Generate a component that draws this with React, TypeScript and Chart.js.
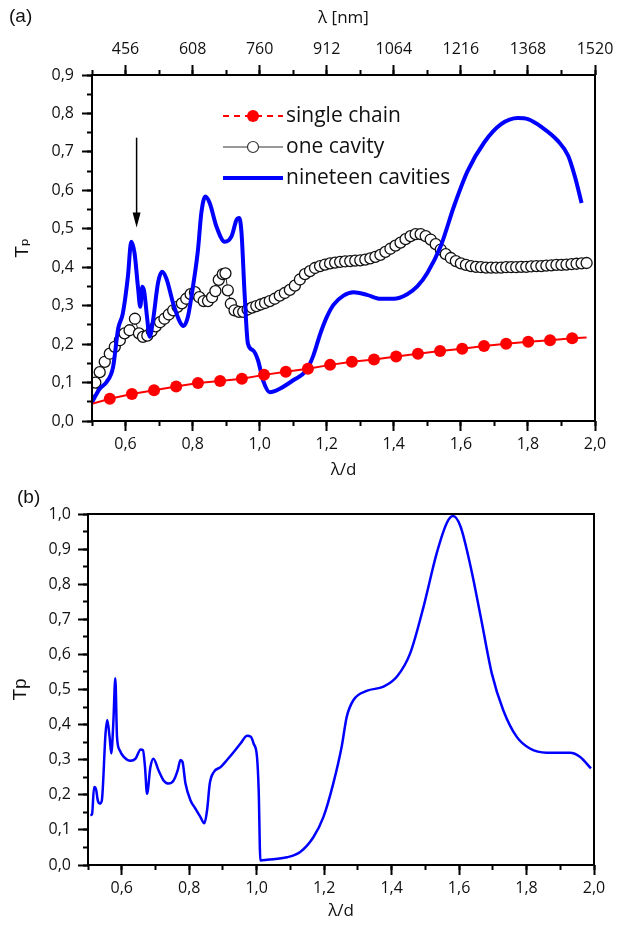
import React, { useEffect, useRef } from "react";
import { Chart, registerables } from "chart.js";

Chart.register(...registerables);

// ---------------- data ----------------
const X_MIN = 0.5;
const X_MAX = 2.0;
const D_NM = 760; // lambda [nm] = (lambda/d) * D_NM
const TOP_Y_MAX = 0.9;
const BOTTOM_Y_MAX = 1.0;

const SERIES_NAMES = ["single chain", "one cavity", "nineteen cavities"];

// (a) single chain (red line with filled dots; first/last points are line ends only)
const SINGLE_X = [0.5, 0.553, 0.619, 0.685, 0.751, 0.816, 0.882, 0.947, 1.013, 1.078, 1.144, 1.21, 1.275, 1.341, 1.407, 1.472, 1.538, 1.604, 1.669, 1.735, 1.801, 1.866, 1.932, 1.975];
const SINGLE_Y = [0.045, 0.058, 0.07, 0.08, 0.09, 0.099, 0.104, 0.11, 0.12, 0.128, 0.136, 0.146, 0.154, 0.16, 0.168, 0.175, 0.182, 0.188, 0.195, 0.201, 0.206, 0.21, 0.215, 0.217];

// (a) one cavity (open circles)
const ONE_X = [0.5, 0.51, 0.523, 0.538, 0.553, 0.568, 0.583, 0.597, 0.612, 0.628, 0.64, 0.652, 0.665, 0.678, 0.69, 0.703, 0.716, 0.729, 0.742, 0.755, 0.768, 0.781, 0.794, 0.807, 0.82, 0.833, 0.846, 0.858, 0.868, 0.878, 0.89, 0.898, 0.905, 0.914, 0.925, 0.938, 0.951, 0.964, 0.977, 0.99, 1.003, 1.016, 1.03, 1.045, 1.06, 1.075, 1.09, 1.105, 1.12, 1.135, 1.15, 1.165, 1.18, 1.195, 1.21, 1.225, 1.24, 1.255, 1.27, 1.285, 1.3, 1.315, 1.33, 1.345, 1.36, 1.375, 1.39, 1.405, 1.42, 1.435, 1.45, 1.465, 1.48, 1.495, 1.51, 1.525, 1.54, 1.555, 1.57, 1.585, 1.6, 1.615, 1.63, 1.645, 1.66, 1.675, 1.69, 1.705, 1.72, 1.735, 1.75, 1.765, 1.78, 1.795, 1.81, 1.825, 1.84, 1.855, 1.87, 1.885, 1.9, 1.915, 1.93, 1.945, 1.96, 1.975];
const ONE_Y = [0.08, 0.1, 0.127, 0.154, 0.175, 0.193, 0.21, 0.228, 0.236, 0.266, 0.228, 0.219, 0.222, 0.234, 0.246, 0.257, 0.266, 0.277, 0.288, 0.297, 0.306, 0.318, 0.33, 0.335, 0.322, 0.312, 0.312, 0.322, 0.338, 0.367, 0.382, 0.384, 0.34, 0.305, 0.288, 0.284, 0.284, 0.29, 0.295, 0.299, 0.303, 0.307, 0.312, 0.318, 0.326, 0.333, 0.341, 0.352, 0.368, 0.382, 0.39, 0.398, 0.403, 0.407, 0.41, 0.412, 0.414, 0.415, 0.416, 0.417, 0.418, 0.42, 0.423, 0.427, 0.432, 0.44, 0.448, 0.456, 0.464, 0.473, 0.481, 0.486, 0.486, 0.481, 0.472, 0.46, 0.446, 0.434, 0.424, 0.416, 0.41, 0.406, 0.403, 0.401, 0.4, 0.399, 0.399, 0.399, 0.399, 0.4, 0.4, 0.4, 0.401, 0.401, 0.402, 0.403, 0.403, 0.404, 0.405, 0.406, 0.406, 0.407, 0.408, 0.409, 0.41, 0.411];

// (a) nineteen cavities (thick blue line)
const NINETEEN_X = [0.5, 0.523, 0.543, 0.563, 0.578, 0.592, 0.607, 0.617, 0.627, 0.637, 0.644, 0.65, 0.656, 0.664, 0.672, 0.682, 0.697, 0.709, 0.722, 0.742, 0.762, 0.773, 0.786, 0.801, 0.816, 0.826, 0.838, 0.851, 0.871, 0.896, 0.916, 0.931, 0.939, 0.946, 0.955, 0.965, 0.98, 0.995, 1.01, 1.03, 1.06, 1.1, 1.14, 1.16, 1.18, 1.2, 1.22, 1.25, 1.28, 1.32, 1.36, 1.4, 1.44, 1.47, 1.5, 1.54, 1.58, 1.62, 1.67, 1.72, 1.77, 1.8, 1.84, 1.89, 1.92, 1.94, 1.96];
const NINETEEN_Y = [0.049, 0.084, 0.101, 0.141, 0.24, 0.28, 0.375, 0.466, 0.436, 0.349, 0.297, 0.349, 0.335, 0.271, 0.219, 0.262, 0.36, 0.388, 0.37, 0.306, 0.258, 0.247, 0.271, 0.349, 0.445, 0.541, 0.584, 0.567, 0.506, 0.466, 0.48, 0.523, 0.528, 0.488, 0.332, 0.201, 0.184, 0.158, 0.106, 0.075, 0.084, 0.106, 0.133, 0.17, 0.225, 0.27, 0.302, 0.326, 0.335, 0.328, 0.318, 0.318, 0.33, 0.35, 0.385, 0.455, 0.56, 0.65, 0.725, 0.772, 0.788, 0.785, 0.765, 0.728, 0.69, 0.636, 0.567];

// arrow in (a)
const ARROW_X = 0.633;
const ARROW_Y = [0.737, 0.503];

// (b) single blue curve
const B_X = [0.507, 0.512, 0.518, 0.524, 0.529, 0.535, 0.541, 0.552, 0.557, 0.564, 0.569, 0.575, 0.581, 0.586, 0.594, 0.606, 0.626, 0.641, 0.656, 0.663, 0.669, 0.675, 0.685, 0.694, 0.709, 0.724, 0.739, 0.754, 0.766, 0.774, 0.78, 0.789, 0.804, 0.818, 0.833, 0.845, 0.853, 0.861, 0.873, 0.893, 0.912, 0.932, 0.952, 0.972, 0.983, 0.991, 1.001, 1.006, 1.011, 1.031, 1.09, 1.129, 1.168, 1.198, 1.227, 1.252, 1.267, 1.287, 1.326, 1.376, 1.416, 1.455, 1.495, 1.534, 1.564, 1.582, 1.604, 1.634, 1.664, 1.697, 1.731, 1.771, 1.81, 1.86, 1.929, 1.959, 1.991];
const B_Y = [0.142, 0.145, 0.222, 0.215, 0.184, 0.175, 0.184, 0.375, 0.413, 0.365, 0.318, 0.403, 0.532, 0.365, 0.327, 0.308, 0.297, 0.303, 0.329, 0.327, 0.279, 0.203, 0.279, 0.303, 0.27, 0.241, 0.232, 0.241, 0.27, 0.299, 0.294, 0.232, 0.184, 0.161, 0.137, 0.119, 0.156, 0.232, 0.265, 0.279, 0.299, 0.322, 0.346, 0.368, 0.365, 0.346, 0.308, 0.213, 0.013, 0.015, 0.022, 0.037, 0.079, 0.137, 0.232, 0.337, 0.422, 0.47, 0.496, 0.508, 0.537, 0.603, 0.737, 0.889, 0.975, 0.994, 0.965, 0.851, 0.708, 0.546, 0.441, 0.365, 0.332, 0.32, 0.32, 0.308, 0.275];

// ---------------- styling ----------------
const RED = "#ff0000";
const BLUE = "#0000ff";
const INK = "#111111";
const OPEN = "'Open Sans', 'DejaVu Sans', sans-serif";
const ARIAL = "'Liberation Sans', Arial, 'DejaVu Sans', sans-serif";
const TICK_FONT = { family: OPEN, size: 16 };

const zip = (xs: number[], ys: number[]) => xs.map((x, i) => ({ x, y: ys[i] }));
const comma = (v: number) => Number(v).toFixed(1).replace(".", ",");

function fitAxis(size: number, horizontal: boolean) {
  return (s: any) => {
    if (horizontal) s.height = size;
    else s.width = size;
    s.paddingLeft = 0;
    s.paddingRight = 0;
    s.paddingTop = 0;
    s.paddingBottom = 0;
  };
}

function axis(
  position: string,
  min: number,
  max: number,
  step: number,
  tickLen: number,
  weight: number,
  size: number,
  label: ((v: number) => string) | null,
  padding: number,
  title?: any
) {
  return {
    type: "linear",
    position,
    min,
    max,
    weight,
    ticks: {
      stepSize: step,
      display: !!label,
      callback: label ? (v: any) => label(Number(v)) : () => "",
      font: TICK_FONT,
      color: INK,
      padding,
      autoSkip: false,
      maxRotation: 0,
      minRotation: 0,
      includeBounds: false,
    },
    grid: {
      display: true,
      drawOnChartArea: false,
      drawTicks: true,
      tickLength: tickLen,
      tickWidth: 2,
      tickColor: "#000",
    },
    border: { display: false },
    title: title || { display: false },
    afterFit: fitAxis(size, position === "top" || position === "bottom"),
  };
}

const framePlugin = {
  id: "frame",
  afterDatasetsDraw(chart: any) {
    const { ctx, chartArea: a } = chart;
    ctx.save();
    ctx.strokeStyle = "#000";
    ctx.lineWidth = 2;
    ctx.strokeRect(a.left, a.top, a.right - a.left, a.bottom - a.top);
    ctx.restore();
  },
};

function panelLabel(text: string, x: number, y: number) {
  return {
    id: "panelLabel",
    afterDraw(chart: any) {
      const ctx = chart.ctx;
      ctx.save();
      ctx.fillStyle = INK;
      ctx.font = `19px ${ARIAL}`;
      ctx.textAlign = "left";
      ctx.textBaseline = "middle";
      ctx.fillText(text, x, y);
      ctx.restore();
    },
  };
}

const arrowPlugin = {
  id: "arrow",
  afterDatasetsDraw(chart: any) {
    const { ctx, scales } = chart;
    const x = scales.x.getPixelForValue(ARROW_X);
    const y0 = scales.y.getPixelForValue(ARROW_Y[0]);
    const y1 = scales.y.getPixelForValue(ARROW_Y[1]);
    ctx.save();
    ctx.strokeStyle = "#000";
    ctx.fillStyle = "#000";
    ctx.lineWidth = 1.5;
    ctx.beginPath();
    ctx.moveTo(x, y0);
    ctx.lineTo(x, y1 - 12);
    ctx.stroke();
    ctx.beginPath();
    ctx.moveTo(x - 4, y1 - 15);
    ctx.lineTo(x + 4, y1 - 15);
    ctx.lineTo(x, y1);
    ctx.closePath();
    ctx.fill();
    ctx.restore();
  },
};

const legendPlugin = {
  id: "lineLegend",
  afterDraw(chart: any) {
    const { ctx } = chart;
    const x0 = 223;
    const x1 = 283;
    const xm = 253;
    const rows = [116, 147, 178];
    ctx.save();
    // single chain
    ctx.strokeStyle = RED;
    ctx.lineWidth = 2;
    ctx.setLineDash([6, 5]);
    ctx.beginPath();
    ctx.moveTo(x0, rows[0]);
    ctx.lineTo(x1, rows[0]);
    ctx.stroke();
    ctx.setLineDash([]);
    ctx.fillStyle = RED;
    ctx.beginPath();
    ctx.arc(xm, rows[0], 6, 0, Math.PI * 2);
    ctx.fill();
    // one cavity
    ctx.strokeStyle = "#333";
    ctx.lineWidth = 1;
    ctx.beginPath();
    ctx.moveTo(x0, rows[1]);
    ctx.lineTo(x1, rows[1]);
    ctx.stroke();
    ctx.fillStyle = "#fff";
    ctx.lineWidth = 1.2;
    ctx.beginPath();
    ctx.arc(xm, rows[1], 5.5, 0, Math.PI * 2);
    ctx.fill();
    ctx.stroke();
    // nineteen cavities
    ctx.strokeStyle = BLUE;
    ctx.lineWidth = 4;
    ctx.beginPath();
    ctx.moveTo(x0, rows[2]);
    ctx.lineTo(x1, rows[2]);
    ctx.stroke();
    // labels
    ctx.fillStyle = INK;
    ctx.font = `21px ${OPEN}`;
    ctx.textAlign = "left";
    ctx.textBaseline = "middle";
    SERIES_NAMES.forEach((n, i) => ctx.fillText(n, 286, rows[i]));
    ctx.restore();
  },
};

export default function App() {
  const topRef = useRef<HTMLCanvasElement | null>(null);
  const botRef = useRef<HTMLCanvasElement | null>(null);

  useEffect(() => {
    const lastSingle = SINGLE_X.length - 1;
    const top = new Chart(topRef.current as HTMLCanvasElement, {
      type: "line",
      data: {
        datasets: [
          {
            label: SERIES_NAMES[0],
            data: zip(SINGLE_X, SINGLE_Y),
            borderColor: RED,
            backgroundColor: RED,
            borderWidth: 2,
            pointRadius: (c: any) => (c.dataIndex === 0 || c.dataIndex === lastSingle ? 0 : 6),
            pointBackgroundColor: RED,
            pointBorderColor: RED,
            pointBorderWidth: 0,
            order: 0,
            xAxisID: "x",
            yAxisID: "y",
          },
          {
            label: SERIES_NAMES[1],
            data: zip(ONE_X, ONE_Y),
            borderColor: "#222",
            borderWidth: 1,
            pointRadius: 5.5,
            pointBackgroundColor: "#fff",
            pointBorderColor: "#111",
            pointBorderWidth: 1.3,
            order: 2,
            xAxisID: "x",
            yAxisID: "y",
          },
          {
            label: SERIES_NAMES[2],
            data: zip(NINETEEN_X, NINETEEN_Y),
            borderColor: BLUE,
            borderWidth: 4,
            pointRadius: 0,
            cubicInterpolationMode: "monotone",
            order: 1,
            xAxisID: "x",
            yAxisID: "y",
          },
        ],
      } as any,
      options: {
        responsive: false,
        animation: false,
        events: [],
        layout: { padding: { left: 0, right: 30, top: 0, bottom: 0 } },
        plugins: { legend: { display: false }, tooltip: { enabled: false }, title: { display: false } },
        scales: {
          x: axis("bottom", X_MIN, X_MAX, 0.2, 10, 1, 59, comma, 4, {
            display: true,
            text: "λ/d",
            color: INK,
            font: { family: OPEN, size: 17 },
            padding: { top: 0, bottom: 0 },
          }),
          xMinor: axis("bottom", X_MIN, X_MAX, 0.1, 5, 0, 0, null, 0),
          x2: axis("top", X_MIN, X_MAX, 0.2, 10, 1, 75, (v) => String(Math.round(v * D_NM)), 6, {
            display: true,
            text: "λ [nm]",
            color: INK,
            font: { family: OPEN, size: 17 },
            padding: { top: 8, bottom: 0 },
          }),
          x2Minor: axis("top", X_MIN, X_MAX, 0.1, 5, 0, 0, null, 0),
          y: axis("left", 0, TOP_Y_MAX, 0.1, 10, 1, 92, comma, 8, {
            display: true,
            text: "Tₚ",
            color: INK,
            font: { family: ARIAL, size: 19 },
            padding: { top: 11, bottom: 0 },
          }),
          yMinor: axis("left", 0, TOP_Y_MAX, 0.05, 5, 0, 0, null, 0),
        } as any,
      },
      plugins: [framePlugin, arrowPlugin, legendPlugin, panelLabel("(a)", 9, 17)],
    });

    const bottom = new Chart(botRef.current as HTMLCanvasElement, {
      type: "line",
      data: {
        datasets: [
          {
            label: "Tp",
            data: zip(B_X, B_Y),
            borderColor: BLUE,
            borderWidth: 2.5,
            pointRadius: 0,
            cubicInterpolationMode: "monotone",
            xAxisID: "x",
            yAxisID: "y",
          },
        ],
      } as any,
      options: {
        responsive: false,
        animation: false,
        events: [],
        layout: { padding: { left: 0, right: 31, top: 34, bottom: 0 } },
        plugins: { legend: { display: false }, tooltip: { enabled: false }, title: { display: false } },
        scales: {
          x: axis("bottom", X_MIN, X_MAX, 0.2, 10, 1, 61, comma, 4, {
            display: true,
            text: "λ/d",
            color: INK,
            font: { family: OPEN, size: 17 },
            padding: { top: 0, bottom: 5 },
          }),
          xMinor: axis("bottom", X_MIN, X_MAX, 0.1, 5, 0, 0, null, 0),
          y: axis("left", 0, BOTTOM_Y_MAX, 0.1, 10, 1, 88, comma, 7, {
            display: true,
            text: "Tp",
            color: INK,
            font: { family: ARIAL, size: 19 },
            padding: { top: 9, bottom: 0 },
          }),
          yMinor: axis("left", 0, BOTTOM_Y_MAX, 0.05, 5, 0, 0, null, 0),
        } as any,
      },
      plugins: [framePlugin, panelLabel("(b)", 17, 18)],
    });

    return () => {
      top.destroy();
      bottom.destroy();
    };
  }, []);

  return (
    <div style={{ position: "absolute", left: 0, top: 0, width: 625, height: 926, background: "#fff" }}>
      <canvas ref={topRef} width={625} height={480} style={{ position: "absolute", left: 0, top: 0 }} />
      <canvas ref={botRef} width={625} height={446} style={{ position: "absolute", left: 0, top: 480 }} />
    </div>
  );
}
